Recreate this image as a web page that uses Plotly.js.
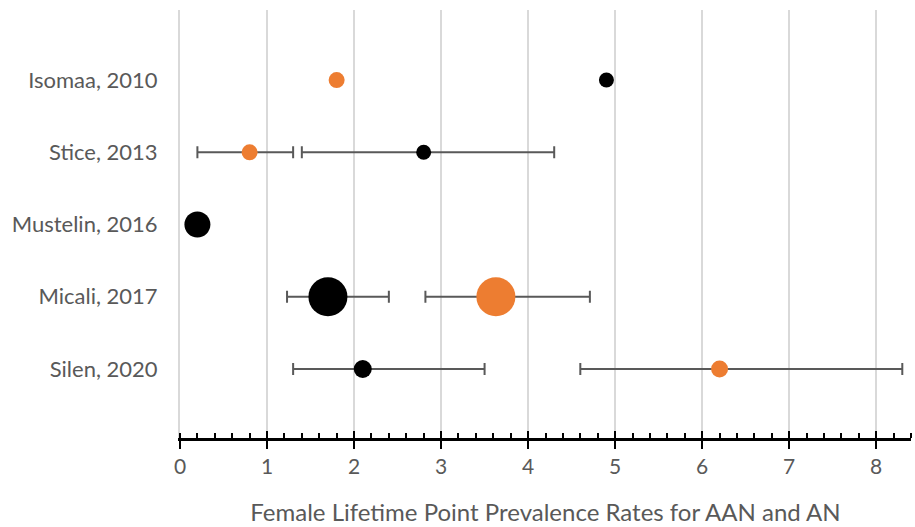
<!DOCTYPE html>
<html><head><meta charset="utf-8">
<script src="https://cdn.plot.ly/plotly-3.0.1.min.js"></script>
<style>html,body{margin:0;padding:0;background:#fff}</style>
</head><body>
<div id="chart" style="width:915px;height:527px"></div>
<script>
const studies = ["Isomaa, 2010", "Stice, 2013", "Mustelin, 2016", "Micali, 2017", "Silen, 2020"];
const studyPos = [5, 4, 3, 2, 1];

// AN (black)
const anY = [5, 4, 3, 2, 1];
const anX = [4.9, 2.8, 0.2, 1.7, 2.1];
const anLow = [null, 1.4, null, 1.23, 1.3];
const anHigh = [null, 4.3, null, 2.4, 3.5];
const anBubble = [15, 15, 26, 39, 18];

// AAN (orange)
const aanY = [5, 4, 2, 1];
const aanX = [1.8, 0.8, 3.63, 6.2];
const aanLow = [null, 0.2, 2.82, 4.6];
const aanHigh = [null, 1.3, 4.71, 8.3];
const aanBubble = [16, 16, 39, 17];

const xTicks = [0, 1, 2, 3, 4, 5, 6, 7, 8];

function errTraces(x, y, lo, hi) {
  const xs = [], ys = [], p = [], m = [];
  x.forEach((v, i) => { if (lo[i] != null) { xs.push(v); ys.push(y[i]); p.push(hi[i] - v); m.push(v - lo[i]); } });
  return { x: xs, y: ys, p: p, m: m };
}
const eAN = errTraces(anX, anY, anLow, anHigh);
const eAAN = errTraces(aanX, aanY, aanLow, aanHigh);
const errStyle = { color: '#595959', thickness: 2, width: 6 };

const traces = [
  { type: 'scatter', mode: 'markers', x: eAN.x, y: eAN.y, marker: { size: 1, opacity: 0 },
    error_x: Object.assign({ type: 'data', symmetric: false, array: eAN.p, arrayminus: eAN.m }, errStyle),
    hoverinfo: 'skip', showlegend: false },
  { type: 'scatter', mode: 'markers', x: eAAN.x, y: eAAN.y, marker: { size: 1, opacity: 0 },
    error_x: Object.assign({ type: 'data', symmetric: false, array: eAAN.p, arrayminus: eAAN.m }, errStyle),
    hoverinfo: 'skip', showlegend: false },
  { type: 'scatter', mode: 'markers', name: 'AN', x: anX, y: anY,
    marker: { color: '#000000', size: anBubble, opacity: 1, line: { width: 0 } }, showlegend: false },
  { type: 'scatter', mode: 'markers', name: 'AAN', x: aanX, y: aanY,
    marker: { color: '#ED7D31', size: aanBubble, opacity: 1, line: { width: 0 } }, showlegend: false },
  { type: 'scatter', mode: 'markers', x: [0], y: [0], xaxis: 'x2', marker: { opacity: 0 }, hoverinfo: 'skip', showlegend: false }
];

const layout = {
  width: 915, height: 527,
  margin: { l: 180, r: 4, t: 10, b: 89 },
  paper_bgcolor: '#ffffff', plot_bgcolor: '#ffffff',
  font: { family: 'Lato, "Open Sans", sans-serif', color: '#595959' },
  xaxis: {
    range: [0, 8.4], tickvals: xTicks, ticktext: xTicks.map(String),
    showgrid: true, gridcolor: '#d9d9d9', gridwidth: 2, zeroline: false,
    showline: true, linecolor: '#000000', linewidth: 2.5,
    ticks: 'outside', ticklen: 8, tickwidth: 2, tickcolor: '#000000',
    minor: { dtick: 0.2, tick0: 0, ticks: 'inside', ticklen: 5, tickwidth: 2, tickcolor: '#000000', showgrid: false },
    tickfont: { size: 21, color: '#595959' },
    title: { text: 'Female Lifetime Point Prevalence Rates for AAN and AN', font: { size: 24, color: '#595959' }, standoff: 28 },
    fixedrange: true
  },
  xaxis2: {
    overlaying: 'x', side: 'bottom', anchor: 'y', range: [0, 8.4], tickvals: xTicks,
    showticklabels: false, showgrid: false, zeroline: false, showline: false,
    ticks: 'inside', ticklen: 7, tickwidth: 2, tickcolor: '#000000'
  },
  yaxis: {
    range: [0.045, 5.97], tickvals: studyPos, ticktext: studies,
    showgrid: false, zeroline: false, showline: true, linecolor: '#d9d9d9', linewidth: 2,
    ticks: '', ticklabelstandoff: 16,
    tickfont: { size: 22, color: '#595959' }, fixedrange: true
  }
};

Plotly.newPlot('chart', traces, layout, { displayModeBar: false, staticPlot: true });
</script>
</body></html>
